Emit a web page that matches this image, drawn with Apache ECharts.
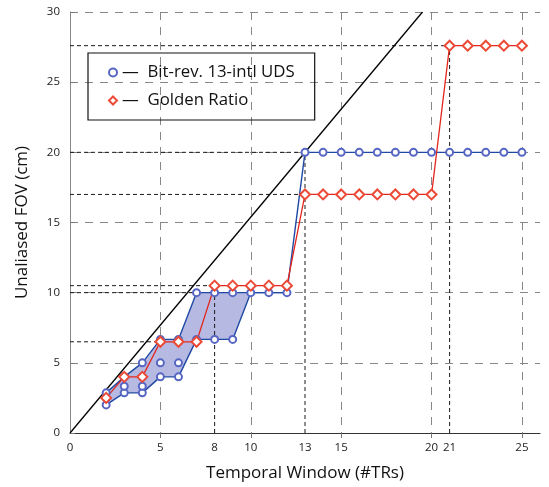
<!DOCTYPE html>
<html>
<head>
<meta charset="utf-8">
<script src="https://cdn.jsdelivr.net/npm/echarts@6/dist/echarts.min.js"></script>
<style>
html,body{margin:0;padding:0;background:#fff;}
#c{width:549px;height:487px;}
</style>
</head>
<body>
<div id="c"></div>
<script>
// ---- data ----
var xTickLabels = [0, 5, 8, 10, 13, 15, 20, 21, 25];
var yTickLabels = [0, 5, 10, 15, 20, 25, 30];

// Bit-reversed 13-interleave UDS: achievable FOVs per temporal window
var bitrevX = [2, 3, 4, 5, 6, 7, 8, 9, 10, 11, 12, 13, 14, 15, 16, 17, 18, 19, 20, 21, 22, 23, 24, 25];
var bitrevSets = [
  [2.0, 2.5, 2.86],
  [2.86, 3.33, 4.0],
  [2.86, 3.33, 4.0, 5.0],
  [4.0, 5.0, 6.67],
  [4.0, 5.0, 6.67],
  [6.67, 10],
  [6.67, 10],
  [6.67, 10],
  [10], [10], [10],
  [20], [20], [20], [20], [20], [20], [20], [20], [20], [20], [20], [20], [20]
];
// band boundaries (max / min FOV)
var bitrevUpper = [2.86, 4.0, 5.0, 6.67, 6.67, 10, 10, 10, 10, 10, 10, 20, 20, 20, 20, 20, 20, 20, 20, 20, 20, 20, 20, 20];
var bitrevLower = [2.0, 2.86, 2.86, 4.0, 4.0, 6.67, 6.67, 6.67, 10, 10, 10];

// Golden ratio
var goldenX = [2, 3, 4, 5, 6, 7, 8, 9, 10, 11, 12, 13, 14, 15, 16, 17, 18, 19, 20, 21, 22, 23, 24, 25];
var goldenY = [2.5, 4.0, 4.0, 6.5, 6.5, 6.5, 10.5, 10.5, 10.5, 10.5, 10.5, 17, 17, 17, 17, 17, 17, 17, 17, 27.6, 27.6, 27.6, 27.6, 27.6];

// Full-sampling reference line (endpoints)
var fullLineX = [0, 19.5];
var fullLineY = [0, 30];

// Dashed reference guides: horizontal [y, xEnd], vertical [x, yEnd]
var refH = [[27.6, 21], [20, 13], [17, 13], [10.5, 8], [10, 7], [6.5, 5]];
var refV = [[21, 27.6], [13, 20], [8, 10.5]];

var seriesNames = ['Bit-rev. 13-intl UDS', 'Golden Ratio'];

// ---- build ----
var chart = echarts.init(document.getElementById('c'), null, {renderer: 'canvas'});
var FONT = 'Open Sans';
var BLUE = '#2049a4', BLUE_SYM = '#5666c2', RED = '#e3261c', RED_SYM = '#ec4a36';

var bandX = bitrevX.slice(0, bitrevLower.length);
var series = [];

series.push({
  type: 'custom', silent: true, z: 1, xAxisIndex: 0, yAxisIndex: 0,
  data: [[0, 0]],
  renderItem: function (params, api) {
    var pts = [];
    for (var i = 0; i < bandX.length; i++) pts.push(api.coord([bandX[i], bitrevUpper[i]]));
    for (var j = bandX.length - 1; j >= 0; j--) pts.push(api.coord([bandX[j], bitrevLower[j]]));
    return {type: 'polygon', shape: {points: pts}, style: {fill: '#b6b9e2'}};
  }
});

function seg(data) {
  return {type: 'line', silent: true, z: 2, symbol: 'none', data: data,
    lineStyle: {color: '#1a1a1a', width: 1, type: [4, 3]}};
}
refH.forEach(function (r) { series.push(seg([[0, r[0]], [r[1], r[0]]])); });
refV.forEach(function (r) { series.push(seg([[r[0], 0], [r[0], r[1]]])); });

series.push({type: 'line', silent: true, z: 3, symbol: 'none',
  data: fullLineX.map(function (x, i) { return [x, fullLineY[i]]; }),
  lineStyle: {color: '#000', width: 1.3}});

series.push({type: 'line', silent: true, z: 4, symbol: 'none',
  data: bitrevX.map(function (x, i) { return [x, bitrevUpper[i]]; }),
  lineStyle: {color: BLUE, width: 1.4}});
series.push({type: 'line', silent: true, z: 4, symbol: 'none',
  data: bandX.map(function (x, i) { return [x, bitrevLower[i]]; }),
  lineStyle: {color: BLUE, width: 1.4}});

series.push({type: 'line', silent: true, z: 5, symbol: 'none',
  data: goldenX.map(function (x, i) { return [x, goldenY[i]]; }),
  lineStyle: {color: RED, width: 1.3}});

var circles = [];
bitrevX.forEach(function (x, i) { bitrevSets[i].forEach(function (v) { circles.push([x, v]); }); });
series.push({name: seriesNames[0], type: 'scatter', z: 6, symbol: 'emptyCircle', symbolSize: 7,
  data: circles, itemStyle: {color: BLUE_SYM, borderColor: BLUE_SYM, borderWidth: 0.7, opacity: 1}});
series.push({name: seriesNames[1], type: 'scatter', z: 7, symbol: 'emptyDiamond', symbolSize: 10,
  data: goldenX.map(function (x, i) { return [x, goldenY[i]]; }),
  itemStyle: {color: RED_SYM, borderColor: RED_SYM, borderWidth: 0.8, opacity: 1}});

var option = {
  animation: false,
  backgroundColor: '#fff',
  textStyle: {fontFamily: FONT},
  grid: {left: 70, right: 9, top: 12, bottom: 54, containLabel: false},
  legend: {
    left: 88, top: 53, orient: 'vertical',
    data: [{name: seriesNames[0], icon: 'emptyCircle', itemStyle: {borderWidth: 1}},
           {name: seriesNames[1], icon: 'emptyDiamond', itemStyle: {borderWidth: 1}}],
    itemWidth: 8, itemHeight: 8, itemGap: 11,
    padding: [11, 20, 11, 20],
    borderColor: '#111', borderWidth: 1.2,
    formatter: function (n) { return '\u2014  ' + n; },
    textStyle: {fontFamily: FONT, fontSize: 16.8, color: '#111'}
  },
  xAxis: [{
    type: 'value', min: 0, max: 26, interval: 5,
    name: 'Temporal Window (#TRs)', nameLocation: 'middle', nameGap: 32,
    nameTextStyle: {fontFamily: FONT, fontSize: 17, color: '#111'},
    axisLine: {show: true, onZero: false, lineStyle: {color: '#333', width: 1}},
    axisTick: {show: false},
    axisLabel: {customValues: xTickLabels, fontFamily: FONT, fontSize: 11.5, color: '#222', margin: 9},
    splitLine: {show: true, showMinLine: false, showMaxLine: false, lineStyle: {color: '#888', width: 1, type: [8, 7]}}
  }, {
    type: 'value', min: 0, max: 26, interval: 5, position: 'top',
    axisLine: {show: false}, axisLabel: {show: false}, splitLine: {show: false},
    axisTick: {show: true, inside: true, length: 5, customValues: [5, 10, 15, 20, 25], lineStyle: {color: '#777'}}
  }],
  yAxis: [{
    type: 'value', min: 0, max: 30, interval: 5,
    name: 'Unaliased FOV (cm)', nameLocation: 'middle', nameGap: 39, nameRotate: 90,
    nameTextStyle: {fontFamily: FONT, fontSize: 17, color: '#111'},
    axisLine: {show: true, onZero: false, lineStyle: {color: '#888', width: 1}},
    axisTick: {show: true, inside: true, length: 5, lineStyle: {color: '#777'}},
    axisLabel: {customValues: yTickLabels, fontFamily: FONT, fontSize: 11.5, color: '#222', margin: 10},
    splitLine: {show: true, showMinLine: false, lineStyle: {color: '#888', width: 1, type: [8, 7]}}
  }],
  series: series
};
chart.setOption(option);
</script>
</body>
</html>
